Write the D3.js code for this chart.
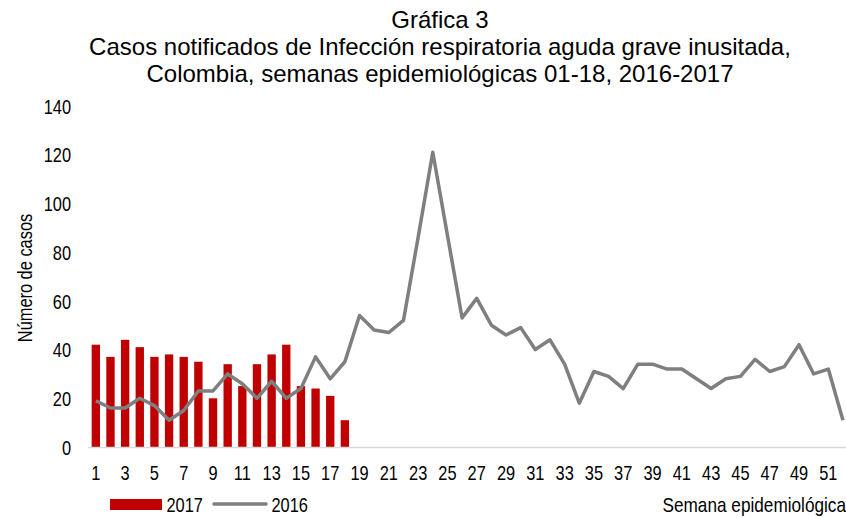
<!DOCTYPE html>
<html>
<head>
<meta charset="utf-8">
<script src="https://cdn.jsdelivr.net/npm/d3@7"></script>
<style>
  html, body { margin: 0; padding: 0; background: #fff; }
  svg { display: block; }
</style>
</head>
<body>
<svg id="chart" width="846" height="518"></svg>
<script>
// ---- Data ----
const weeks = d3.range(1, 53);
const weeks2017 = d3.range(1, 19);
const cases2017 = [42, 37, 44, 41, 37, 38, 37, 35, 20, 34, 25, 34, 38, 42, 25, 24, 21, 11];
const cases2016 = [19, 16, 16, 20, 17, 11, 15, 23, 23, 30, 26, 20, 27, 20, 24, 37, 28, 35,
                   54, 48, 47, 52, 86, 121, 87, 53, 61, 50, 46, 49, 40, 44, 34, 18, 31, 29,
                   24, 34, 34, 32, 32, 28, 24, 28, 29, 36, 31, 33, 42, 30, 32, 11];
const yTicks = [0, 20, 40, 60, 80, 100, 120, 140];
const xTicks = weeks.filter(w => w % 2 === 1);
const titleLines = ["Gráfica 3",
  "Casos notificados de Infección respiratoria aguda grave inusitada,",
  "Colombia, semanas epidemiológicas 01-18, 2016-2017"];
const legendLabels = ["2017", "2016"];

// ---- Layout ----
const FONT = "'Liberation Sans', Arial, sans-serif";
const NARROW = 0.82;   // horizontal squeeze to mimic a narrow face
const SMALL = "20px";
const svg = d3.select("#chart");
const left = 88.5, step = 14.65;
const x = d3.scaleBand().domain(weeks).range([left, left + step * weeks.length])
  .paddingInner(0.43).paddingOuter(0.215);
const y = d3.scaleLinear().domain([0, 140]).range([447, 106]);
const cx = w => x(w) + x.bandwidth() / 2;

function narrowText(parent, px, py, anchor, txt, size, rotate, k) {
  const g = parent.append("g")
    .attr("transform", `translate(${px},${py})` + (rotate ? ` rotate(${rotate})` : ""));
  return g.append("text")
    .attr("transform", `scale(${k || NARROW},1)`)
    .attr("text-anchor", anchor)
    .style("font-family", FONT).style("font-size", size).style("fill", "#000")
    .text(txt);
}

// Title
svg.append("g").selectAll("text").data(titleLines).join("text")
  .attr("x", 440).attr("y", (d, i) => 28 + i * 27)
  .attr("text-anchor", "middle")
  .style("font-family", FONT).style("font-size", "24px").style("fill", "#000")
  .text(d => d);

// Y axis
const yAxis = svg.append("g").attr("transform", "translate(71,0)")
  .call(d3.axisLeft(y).tickValues(yTicks).tickSize(0).tickPadding(0));
yAxis.select(".domain").remove();
yAxis.selectAll("text").style("font-family", FONT).style("font-size", SMALL).style("fill", "#000")
  .attr("dy", "0.36em").attr("transform", `scale(${NARROW},1)`);

narrowText(svg, 32, 278, "middle", "Número de casos", SMALL, -90);

// Bars
svg.append("g").selectAll("rect").data(weeks2017).join("rect")
  .attr("x", w => x(w)).attr("width", x.bandwidth())
  .attr("y", (w, i) => y(cases2017[i]))
  .attr("height", (w, i) => y(0) - y(cases2017[i]))
  .attr("fill", "#c00000");

// Baseline
svg.append("line").attr("x1", 88).attr("x2", 846).attr("y1", y(0) + 0.5).attr("y2", y(0) + 0.5)
  .attr("stroke", "#d9d9d9").attr("stroke-width", 1.5);

// Line 2016
const line = d3.line().x(w => cx(w)).y((w, i) => y(cases2016[i]));
svg.append("path").datum(weeks).attr("d", line)
  .attr("fill", "none").attr("stroke", "#7f7f7f").attr("stroke-width", 3.5)
  .attr("stroke-linejoin", "round");

// X axis labels
const xAxis = svg.append("g").attr("transform", `translate(0,${y(0)})`)
  .call(d3.axisBottom(x).tickValues(xTicks).tickSize(0).tickPadding(0));
xAxis.select(".domain").remove();
xAxis.selectAll("text").style("font-family", FONT).style("font-size", SMALL).style("fill", "#000")
  .attr("dy", null).attr("y", 33).attr("transform", `scale(${NARROW},1)`);

// Legend
const lg = svg.append("g");
lg.append("rect").attr("x", 110).attr("y", 499).attr("width", 52).attr("height", 11).attr("fill", "#c00000");
narrowText(lg, 166.5, 512, "start", legendLabels[0], SMALL);
lg.append("line").attr("x1", 214).attr("x2", 266).attr("y1", 504).attr("y2", 504)
  .attr("stroke", "#7f7f7f").attr("stroke-width", 3.5).attr("stroke-linecap", "round");
narrowText(lg, 271.5, 512, "start", legendLabels[1], SMALL);

narrowText(svg, 846, 512, "end", "Semana epidemiológica", SMALL, null, 0.86);
</script>
</body>
</html>
